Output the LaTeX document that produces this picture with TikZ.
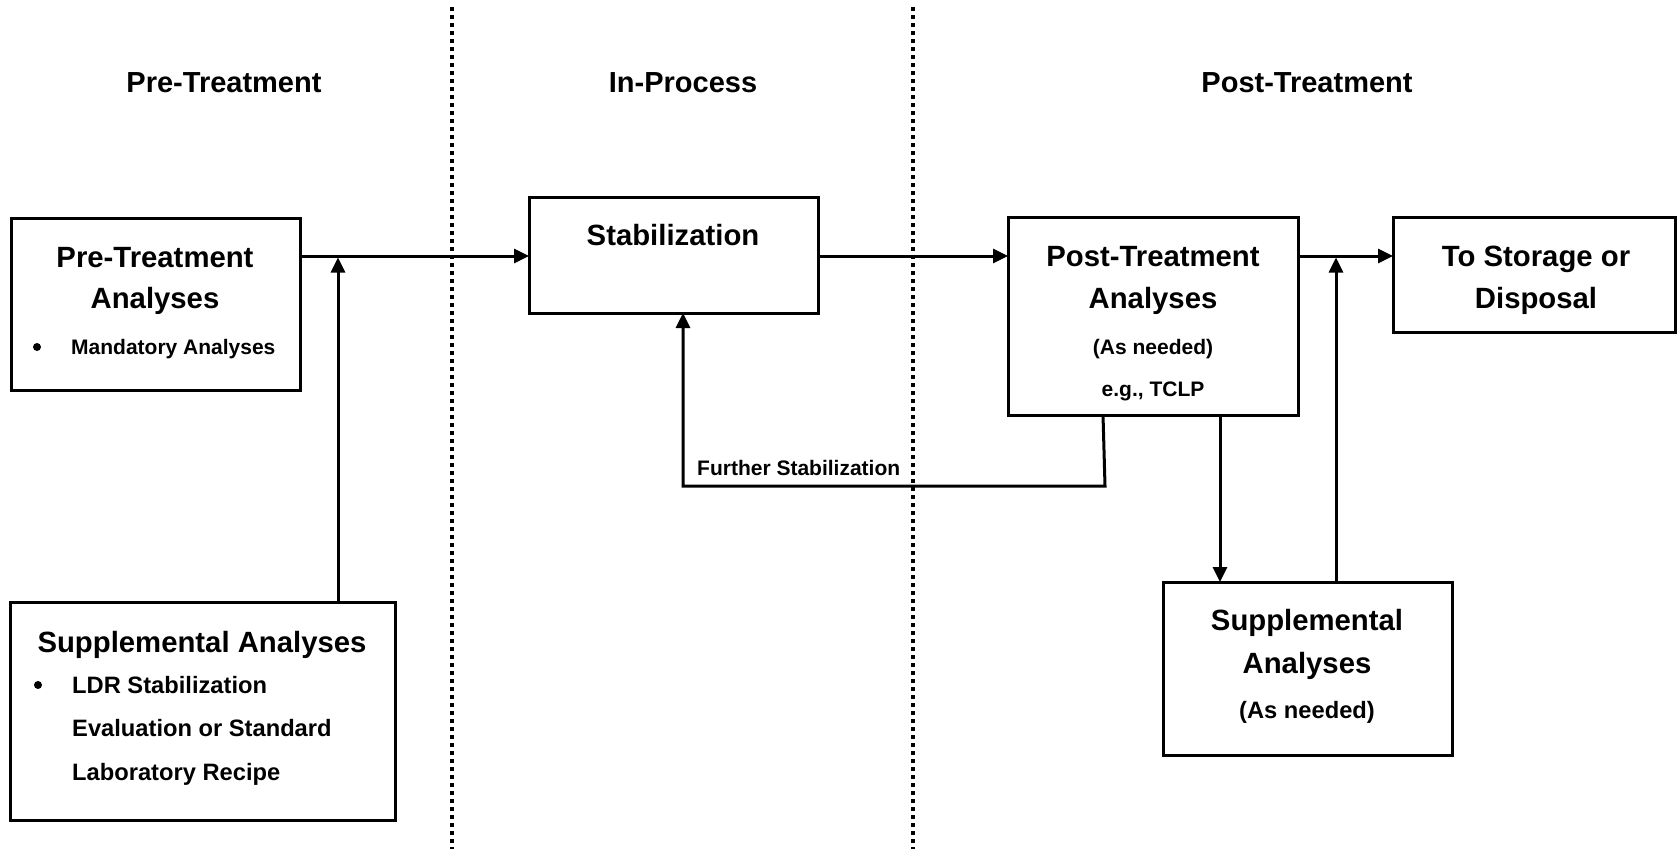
\documentclass[tikz,border=0pt]{standalone}
\usepackage{fontspec}
\setmainfont{Liberation Sans}
\usetikzlibrary{arrows.meta,calc}

\tikzset{
  box/.style={draw, line width=3pt, rectangle, inner sep=0pt, outer sep=0pt, anchor=north west},
  arr/.style={line width=3pt, line join=miter, -{Triangle[length=15pt,width=14pt]}},
  link/.style={line width=3pt, line join=miter},
  divider/.style={line width=4pt, dash pattern=on 4pt off 4pt},
  head/.style={font=\bfseries\fontsize{29}{34}\selectfont, anchor=base, inner sep=0pt},
  big/.style={font=\bfseries\fontsize{29.3}{35}\selectfont, anchor=base, inner sep=0pt},
  mid/.style={font=\bfseries\fontsize{23.7}{28}\selectfont, anchor=base, inner sep=0pt},
  small/.style={font=\bfseries\fontsize{21}{25}\selectfont, anchor=base, inner sep=0pt},
  bullet/.style={circle, fill, inner sep=0pt, minimum size=8pt},
}

\begin{document}
\begin{tikzpicture}[x=1pt, y=-1pt]
\useasboundingbox (0,0) rectangle (1677,849);

% phase dividers
\coordinate (d1top) at (452,7);   \coordinate (d1bot) at (452,849);
\coordinate (d2top) at (913,7);   \coordinate (d2bot) at (913,849);
\draw[divider] (d1top) -- (d1bot);
\draw[divider] (d2top) -- (d2bot);

% phase headings
\node[head] (hpre)  at (224,92)  {Pre-Treatment};
\node[head] (hin)   at (683,92)  {In-Process};
\node[head] (hpost) at (1307,92) {Post-Treatment};

% boxes
\node[box, minimum width=289pt, minimum height=172pt] (pre)  at (11,218)   {};
\node[box, minimum width=385pt, minimum height=218pt] (supp) at (10,602)   {};
\node[box, minimum width=289pt, minimum height=116pt] (stab) at (529,197)  {};
\node[box, minimum width=290pt, minimum height=198pt] (post) at (1008,217) {};
\node[box, minimum width=282pt, minimum height=115pt] (stor) at (1393,217) {};
\node[box, minimum width=289pt, minimum height=173pt] (supp2) at (1163,582) {};

% box texts
\node[big] (pre1) at (155,267.5) {Pre-Treatment};
\node[big] (pre2) at (155,308.5) {Analyses};
\node[bullet] (preb) at (37,347) {};
\node[small, anchor=base west] (pre3) at (71,354.6) {Mandatory Analyses};

\node[big] (supp1) at (202,652.5) {Supplemental Analyses};
\node[bullet] (suppb) at (38,685) {};
\node[mid, anchor=base west] (supp2l) at (72,693.5) {LDR Stabilization};
\node[mid, anchor=base west] (supp3l) at (72,736.5) {Evaluation or Standard};
\node[mid, anchor=base west] (supp4l) at (72,780.5) {Laboratory Recipe};

\node[big] (stab1) at (673,245.5) {Stabilization};

\node[big]   (post1) at (1153,266.5) {Post-Treatment};
\node[big]   (post2) at (1153,308.5) {Analyses};
\node[small] (post3) at (1153,354.6) {(As needed)};
\node[small] (post4) at (1153,396.6) {e.g., TCLP};

\node[big] (stor1) at (1536,266.5) {To Storage or};
\node[big] (stor2) at (1536,308.5) {Disposal};

\node[big] (s2a) at (1307,630.5) {Supplemental};
\node[big] (s2b) at (1307,673.5) {Analyses};
\node[mid] (s2c) at (1307,718.5) {(As needed)};

% main flow line
\coordinate (row) at (0,256);
\coordinate (j1) at (338,256);
\coordinate (j2) at (1336,256);

\draw[arr] (pre.east |- row) -- (stab.west |- row);
\draw[arr] (supp.north -| j1) -- ($(j1)+(0,1.5)$);
\draw[arr] (stab.east |- row) -- (post.west |- row);
\draw[arr] (post.east |- row) -- (stor.west |- row);
\draw[arr] (supp2.north -| j2) -- ($(j2)+(0,1.5)$);

% down to supplemental post-treatment analyses
\coordinate (dn) at (1220,0);
\draw[arr] (post.south -| dn) -- (supp2.north -| dn);

% feedback loop
\coordinate (fbA) at (1103,0);
\coordinate (fbB) at (1105,486);
\coordinate (fbC) at (683,486);
\draw[arr] (post.south -| fbA) -- (fbB) -- (fbC) -- (fbC |- stab.south);
\node[small, anchor=base west] (fbl) at (697,475) {Further Stabilization};
\end{tikzpicture}
\end{document}
